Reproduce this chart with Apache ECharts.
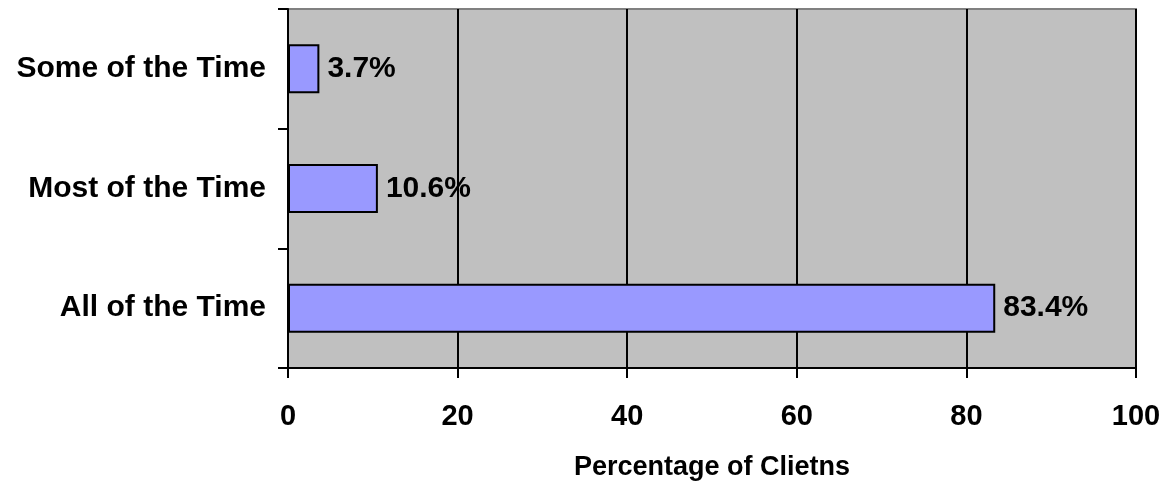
<!DOCTYPE html>
<html>
<head>
<meta charset="utf-8">
<script src="https://cdn.jsdelivr.net/npm/echarts@6/dist/echarts.min.js"></script>
<style>
  html, body { margin: 0; padding: 0; background: #fff; }
  #chart { width: 1169px; height: 486px; }
</style>
</head>
<body>
<div id="chart"></div>
<script>
// Frequency categories, bottom to top
const categories = ['All of the Time', 'Most of the Time', 'Some of the Time'];
// Share of clients in each category (%)
const percentages = [83.4, 10.6, 3.7];
const xTicks = [0, 20, 40, 60, 80, 100];

const chart = echarts.init(document.getElementById('chart'), null, { renderer: 'canvas' });
const font = 'Arial, "Liberation Sans", sans-serif';

chart.setOption({
  animation: false,
  backgroundColor: '#ffffff',
  grid: {
    left: 288, right: 33, top: 9, bottom: 117,
    show: true,
    backgroundColor: '#c0c0c0',
    borderColor: '#808080',
    borderWidth: 2
  },
  xAxis: {
    type: 'value',
    min: xTicks[0],
    max: xTicks[xTicks.length - 1],
    interval: 20,
    name: 'Percentage of Clietns',
    nameLocation: 'middle',
    nameGap: 86,
    nameTextStyle: { fontFamily: font, fontWeight: 'bold', fontSize: 27, color: '#000' },
    axisLine: { show: true, onZero: false, lineStyle: { color: '#000', width: 2 } },
    axisTick: { show: true, length: 10, lineStyle: { color: '#000', width: 2 } },
    axisLabel: { fontFamily: font, fontWeight: 'bold', fontSize: 29, color: '#000', margin: 34 },
    splitLine: { show: true, lineStyle: { color: '#000', width: 2 } }
  },
  yAxis: {
    type: 'category',
    data: categories,
    axisLine: { show: true, lineStyle: { color: '#000', width: 2 } },
    axisTick: { show: true, length: 10, lineStyle: { color: '#000', width: 2 } },
    axisLabel: { fontFamily: font, fontWeight: 'bold', fontSize: 30, color: '#000', margin: 22 },
    splitLine: { show: false }
  },
  series: [{
    type: 'bar',
    data: percentages,
    barWidth: '41%',
    itemStyle: { color: '#9999ff', borderColor: '#000', borderWidth: 2 },
    label: {
      show: true,
      position: 'right',
      distance: 8,
      formatter: p => p.value.toFixed(1) + '%',
      fontFamily: font, fontWeight: 'bold', fontSize: 30, color: '#000'
    }
  }]
});
</script>
</body>
</html>
